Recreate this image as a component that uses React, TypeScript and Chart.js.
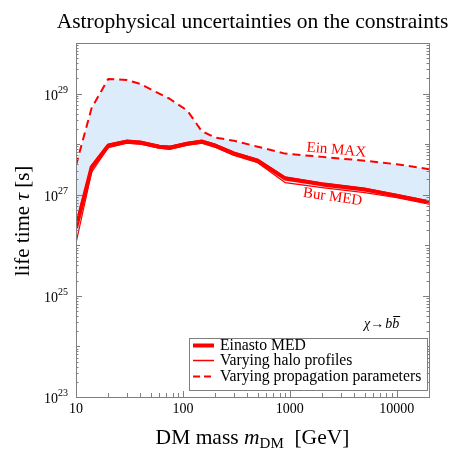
import React, { useEffect, useRef } from "react";
import { Chart, registerables } from "chart.js";

Chart.register(...registerables);

// ---------- data ----------
const massGeV = [10, 14, 20, 30, 40, 60, 75, 110, 150, 200, 300, 500, 900, 2000, 5000, 10000, 20000];
const einastoMed = [2.2e26, 3.5e27, 9.3e27, 1.12e28, 1.07e28, 8.9e27, 8.5e27, 1.02e28, 1.12e28, 9.3e27, 6.5e27, 4.7e27, 2.1e27, 1.6e27, 1.26e27, 9.5e26, 7.1e26];
const haloUpper = [2.8e26, 3.8e27, 1.0e28, 1.2e28, 1.15e28, 9.5e27, 9.1e27, 1.09e28, 1.2e28, 1.0e28, 7.0e27, 5.0e27, 2.25e27, 1.72e27, 1.35e27, 1.02e27, 7.6e26];
const burkertMed = [1.1e26, 2.8e27, 8.5e27, 1.05e28, 1.0e28, 8.3e27, 7.9e27, 9.5e27, 1.05e28, 8.7e27, 6.0e27, 4.3e27, 1.74e27, 1.38e27, 1.1e27, 8.7e26, 6.5e26];
const einastoMax = [3.8e27, 5.2e28, 1.95e29, 1.85e29, 1.55e29, 1.0e29, 7.9e28, 4.6e28, 1.8e28, 1.35e28, 1.17e28, 8.9e27, 6.5e27, 5.6e27, 4.7e27, 4.0e27, 3.2e27];

const xTickValues = [10, 100, 1000, 10000];
const xTickLabels = ["10", "100", "1000", "10000"];
const yLabelExponents = [23, 25, 27, 29];
const legendLabels = ["Einasto MED", "Varying halo profiles", "Varying propagation parameters"];
const titleText = "Astrophysical uncertainties on the constraints";
const curveLabels = ["Ein MAX", "Bur MED"];

const SERIF = '"Liberation Serif", "DejaVu Serif", serif';
const RED = "#ff0000";
const AXIS = "#7f7f7f";

function font(size: number, style = "") {
  return `${style} ${size}px ${SERIF}`.trim();
}

const decor = {
  id: "decor",
  afterDatasetsDraw(chart: any) {
    const { ctx, chartArea: a, scales } = chart;
    const xs = scales.x;
    const ys = scales.y;
    ctx.save();

    // frame
    ctx.strokeStyle = AXIS;
    ctx.lineWidth = 1;
    ctx.strokeRect(Math.round(a.left) + 0.5, Math.round(a.top) + 0.5, Math.round(a.right - a.left), Math.round(a.bottom - a.top));

    // x ticks (inward, bottom)
    ctx.beginPath();
    for (let d = 10; d <= 10000; d *= 10) {
      for (let k = 1; k <= 9; k++) {
        const v = d * k;
        if (v < 10 || v > 20000) continue;
        const px = Math.round(xs.getPixelForValue(v)) + 0.5;
        const len = k === 1 ? 6 : 4;
        ctx.moveTo(px, a.bottom);
        ctx.lineTo(px, a.bottom - len);
      }
    }
    // y ticks (inward, left and right)
    for (let e = 23; e <= 29; e++) {
      for (let k = 1; k <= 9; k++) {
        const v = k * Math.pow(10, e);
        const py = Math.round(ys.getPixelForValue(v)) + 0.5;
        const len = k === 1 ? (e % 2 === 1 ? 6 : 4) : 2.5;
        ctx.moveTo(a.left, py);
        ctx.lineTo(a.left + len, py);
        ctx.moveTo(a.right, py);
        ctx.lineTo(a.right - len, py);
      }
    }
    ctx.stroke();

    // x tick labels
    ctx.fillStyle = "#000";
    ctx.font = font(14);
    ctx.textAlign = "center";
    ctx.textBaseline = "alphabetic";
    xTickValues.forEach((v, i) => {
      ctx.fillText(xTickLabels[i], xs.getPixelForValue(v), a.bottom + 16);
    });

    // y tick labels 10^n
    yLabelExponents.forEach((e) => {
      const py = ys.getPixelForValue(Math.pow(10, e));
      ctx.font = font(10);
      const sup = String(e);
      const supW = ctx.measureText(sup).width;
      ctx.font = font(14);
      const baseW = ctx.measureText("10").width;
      const right = a.left - 8;
      ctx.textAlign = "left";
      ctx.fillText("10", right - supW - baseW, py + 6);
      ctx.font = font(10);
      ctx.fillText(sup, right - supW, py - 1);
    });

    // title
    ctx.font = font(21.5);
    ctx.textAlign = "center";
    ctx.fillText(titleText, (a.left + a.right) / 2, 28);

    // x axis title: DM mass m_DM [GeV]
    {
      const parts = [
        { t: "DM mass ", f: font(21.5), dy: 0 },
        { t: "m", f: font(21.5, "italic"), dy: 0 },
        { t: "DM", f: font(15), dy: 4 },
        { t: "  [GeV]", f: font(21.5), dy: 0 },
      ];
      let total = 0;
      parts.forEach((p) => { ctx.font = p.f; total += ctx.measureText(p.t).width; });
      let x = (a.left + a.right) / 2 - total / 2;
      ctx.textAlign = "left";
      parts.forEach((p) => {
        ctx.font = p.f;
        ctx.fillText(p.t, x, 444 + p.dy);
        x += ctx.measureText(p.t).width;
      });
    }

    // y axis title: life time τ [s]
    {
      ctx.save();
      ctx.translate(29, 221);
      ctx.rotate(-Math.PI / 2);
      const parts = [
        { t: "life time ", f: font(21) },
        { t: "τ", f: font(21, "italic") },
        { t: " [s]", f: font(21) },
      ];
      let total = 0;
      parts.forEach((p) => { ctx.font = p.f; total += ctx.measureText(p.t).width; });
      let x = -total / 2;
      ctx.textAlign = "left";
      parts.forEach((p) => {
        ctx.font = p.f;
        ctx.fillText(p.t, x, 0);
        x += ctx.measureText(p.t).width;
      });
      ctx.restore();
    }

    // curve labels
    ctx.fillStyle = RED;
    ctx.font = font(15);
    ctx.textAlign = "center";
    ctx.save();
    ctx.translate(336, 154);
    ctx.rotate((5 * Math.PI) / 180);
    ctx.fillText(curveLabels[0], 0, 0);
    ctx.restore();
    ctx.save();
    ctx.translate(332, 201);
    ctx.rotate((8 * Math.PI) / 180);
    ctx.fillText(curveLabels[1], 0, 0);
    ctx.restore();

    // chi -> b bbar
    {
      ctx.fillStyle = "#000";
      const base = 328;
      let x = 364;
      ctx.textAlign = "left";
      ctx.font = font(14, "italic");
      ctx.fillText("χ", x, base);
      x += ctx.measureText("χ").width;
      ctx.font = font(14);
      ctx.fillText("→", x, base);
      x += ctx.measureText("→").width + 1;
      ctx.font = font(14, "italic");
      ctx.fillText("b", x, base);
      x += ctx.measureText("b").width;
      const bw = ctx.measureText("b").width;
      ctx.fillText("b", x, base);
      ctx.strokeStyle = "#000";
      ctx.lineWidth = 1;
      ctx.beginPath();
      ctx.moveTo(x + 1, base - 11.5);
      ctx.lineTo(x + bw + 1, base - 11.5);
      ctx.stroke();
    }

    // legend box
    {
      const lx = 189.5, ly = 338.5, lw = 238, lh = 52;
      ctx.fillStyle = "#fff";
      ctx.fillRect(lx, ly, lw, lh);
      ctx.strokeStyle = AXIS;
      ctx.lineWidth = 1;
      ctx.strokeRect(lx, ly, lw, lh);
      const rows = [350, 365, 381];
      const styles = [
        { w: 4, dash: [] as number[] },
        { w: 1.5, dash: [] as number[] },
        { w: 2, dash: [7, 4] },
      ];
      ctx.font = font(15.7);
      ctx.textAlign = "left";
      rows.forEach((by, i) => {
        ctx.strokeStyle = RED;
        ctx.lineWidth = styles[i].w;
        ctx.setLineDash(styles[i].dash);
        ctx.beginPath();
        ctx.moveTo(193, by - 4.5);
        ctx.lineTo(214, by - 4.5);
        ctx.stroke();
        ctx.setLineDash([]);
        ctx.fillStyle = "#000";
        ctx.fillText(legendLabels[i], 220, by);
      });
    }

    ctx.restore();
  },
};

function pts(ys: number[]) {
  return massGeV.map((m, i) => ({ x: m, y: ys[i] }));
}

export default function App() {
  const ref = useRef<HTMLCanvasElement>(null);
  useEffect(() => {
    const canvas = ref.current!;
    const chart = new Chart(canvas, {
      type: "line",
      data: {
        datasets: [
          {
            label: "Ein MAX",
            data: pts(einastoMax),
            borderColor: RED,
            borderWidth: 2,
            borderDash: [8, 5],
            fill: 3,
            backgroundColor: "#ddecfb",
            pointRadius: 0,
            tension: 0,
            clip: 0,
          },
          {
            label: "halo upper",
            data: pts(haloUpper),
            borderColor: RED,
            borderWidth: 1.2,
            fill: false,
            pointRadius: 0,
            tension: 0,
            clip: 0,
          },
          {
            label: "Einasto MED",
            data: pts(einastoMed),
            borderColor: RED,
            borderWidth: 4,
            fill: false,
            pointRadius: 0,
            tension: 0,
            clip: 0,
          },
          {
            label: "Bur MED",
            data: pts(burkertMed),
            borderColor: RED,
            borderWidth: 1.2,
            fill: false,
            pointRadius: 0,
            tension: 0,
            clip: 0,
          },
        ] as any,
      },
      options: {
        responsive: false,
        animation: false,
        devicePixelRatio: 1,
        layout: { padding: { left: 76, top: 43, right: 33, bottom: 65 } },
        scales: {
          x: { type: "logarithmic", min: 10, max: 20000, display: false },
          y: { type: "logarithmic", min: 1e23, max: 1e30, display: false },
        },
        plugins: {
          legend: { display: false },
          title: { display: false },
          tooltip: { enabled: false },
          filler: { drawTime: "beforeDatasetsDraw" },
        },
        elements: { line: { borderJoinStyle: "round" } },
      } as any,
      plugins: [decor],
    });
    return () => chart.destroy();
  }, []);
  return (
    <div style={{ position: "absolute", left: 0, top: 0, width: 462, height: 462, background: "#fff" }}>
      <canvas ref={ref} width={462} height={462} style={{ display: "block" }} />
    </div>
  );
}
